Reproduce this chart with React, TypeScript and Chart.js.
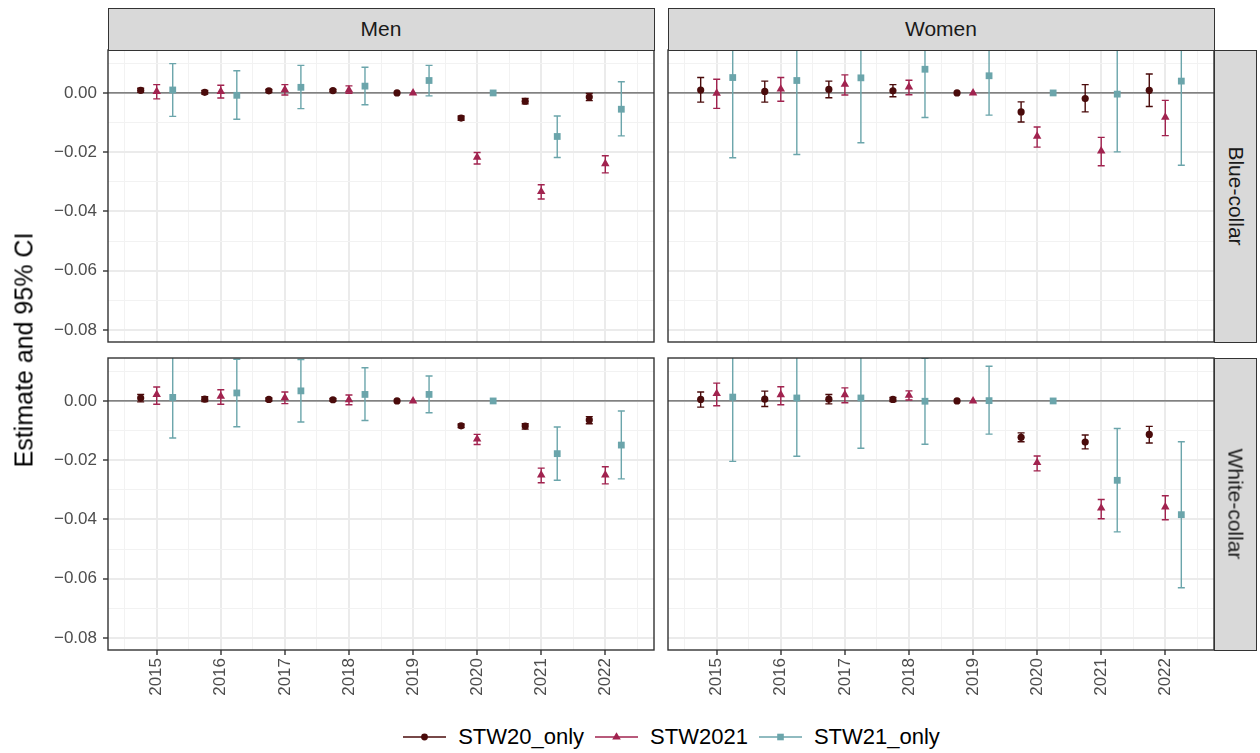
import React, { useEffect, useRef } from "react";
import { Chart, registerables } from "chart.js";

Chart.register(...registerables);

// ---------- data ----------
const years = ["2015", "2016", "2017", "2018", "2019", "2020", "2021", "2022"];
const seriesNames = ["STW20_only", "STW2021", "STW21_only"];
const seriesColors = ["#4A0B0B", "#A1234F", "#6BA5AB"];
const seriesShapes = ["circle", "triangle", "rect"];
const seriesRadius = [3.6, 4.9, 4.8];
const dodge = [-0.25, 0, 0.25];

const Y_MIN = -0.0841;
const Y_MAX = 0.0145;
const X_MIN = 0.24;
const X_MAX = 8.76;

// Men, Blue-collar
const menBlue20Est = [0.0009, 0.0002, 0.0007, 0.0008, 0, -0.0085, -0.0028, -0.0014];
const menBlue20Lo = [0.0002, -0.0004, 0.0002, 0.0004, 0, -0.0092, -0.0037, -0.0026];
const menBlue20Hi = [0.0016, 0.0008, 0.0012, 0.0012, 0, -0.0078, -0.0019, -0.0002];
const menBlue2021Est = [0.0005, 0.0005, 0.0011, 0.001, 0, -0.0217, -0.0333, -0.0239];
const menBlue2021Lo = [-0.002, -0.0017, -0.0007, -0.0001, 0, -0.024, -0.0358, -0.027];
const menBlue2021Hi = [0.0028, 0.0026, 0.0028, 0.0024, 0, -0.0201, -0.031, -0.0212];
const menBlue21Est = [0.001, -0.0008, 0.0019, 0.0023, 0.0042, 0, -0.0147, -0.0055];
const menBlue21Lo = [-0.0079, -0.0089, -0.0053, -0.004, -0.001, 0, -0.0218, -0.0145];
const menBlue21Hi = [0.0099, 0.0075, 0.0093, 0.0087, 0.0093, 0, -0.0078, 0.0038];

// Women, Blue-collar
const womenBlue20Est = [0.001, 0.0005, 0.0012, 0.0007, 0, -0.0064, -0.0019, 0.0009];
const womenBlue20Lo = [-0.0031, -0.0031, -0.0016, -0.0013, 0, -0.0098, -0.0064, -0.0046];
const womenBlue20Hi = [0.0052, 0.004, 0.004, 0.0028, 0, -0.003, 0.0028, 0.0064];
const womenBlue2021Est = [-0.0001, 0.0013, 0.0029, 0.002, 0, -0.0146, -0.0196, -0.0082];
const womenBlue2021Lo = [-0.0052, -0.0028, -0.0007, -0.0006, 0, -0.0183, -0.0246, -0.0144];
const womenBlue2021Hi = [0.0046, 0.0052, 0.0061, 0.0043, 0, -0.0115, -0.015, -0.0025];
const womenBlue21Est = [0.0052, 0.0042, 0.0051, 0.008, 0.0058, 0, -0.0004, 0.004];
const womenBlue21Lo = [-0.0219, -0.0208, -0.0168, -0.0083, -0.0075, 0, -0.0199, -0.0244];
const womenBlue21Hi = [0.0323, 0.0292, 0.027, 0.0243, 0.0191, 0, 0.019, 0.0324];

// Men, White-collar
const menWhite20Est = [0.001, 0.0006, 0.0005, 0.0004, 0, -0.0084, -0.0085, -0.0064];
const menWhite20Lo = [-0.0003, -0.0002, 0.0, 0.0, 0, -0.009, -0.0095, -0.0077];
const menWhite20Hi = [0.0022, 0.0014, 0.001, 0.0008, 0, -0.0078, -0.0077, -0.0053];
const menWhite2021Est = [0.0022, 0.0016, 0.0011, 0.0004, 0, -0.0129, -0.025, -0.025];
const menWhite2021Lo = [-0.0011, -0.0011, -0.0009, -0.0013, 0, -0.0147, -0.0276, -0.028];
const menWhite2021Hi = [0.0047, 0.0038, 0.003, 0.002, 0, -0.0113, -0.0227, -0.0222];
const menWhite21Est = [0.0012, 0.0027, 0.0034, 0.0022, 0.0022, 0, -0.0178, -0.0149];
const menWhite21Lo = [-0.0125, -0.0087, -0.0071, -0.0066, -0.004, 0, -0.0268, -0.0263];
const menWhite21Hi = [0.0149, 0.0141, 0.014, 0.0112, 0.0084, 0, -0.0088, -0.0034];

// Women, White-collar
const womenWhite20Est = [0.0005, 0.0006, 0.0006, 0.0005, 0, -0.0123, -0.0139, -0.0113];
const womenWhite20Lo = [-0.0021, -0.0019, -0.001, -0.0002, 0, -0.0138, -0.0162, -0.0142];
const womenWhite20Hi = [0.003, 0.0033, 0.0022, 0.0012, 0, -0.0108, -0.0115, -0.0086];
const womenWhite2021Est = [0.0025, 0.0021, 0.0021, 0.0019, 0, -0.0208, -0.0362, -0.0358];
const womenWhite2021Lo = [-0.0016, -0.0013, -0.0006, 0.0003, 0, -0.0236, -0.0398, -0.0401];
const womenWhite2021Hi = [0.006, 0.0048, 0.0044, 0.0034, 0, -0.0186, -0.0333, -0.032];
const womenWhite21Est = [0.0013, 0.001, 0.001, -0.0001, 0.0001, 0, -0.0268, -0.0384];
const womenWhite21Lo = [-0.0204, -0.0187, -0.016, -0.0146, -0.0112, 0, -0.0442, -0.0631];
const womenWhite21Hi = [0.023, 0.0207, 0.018, 0.0144, 0.0117, 0, -0.0093, -0.0138];

const colLabels = ["Men", "Women"];
const rowLabels = ["Blue-collar", "White-collar"];
const yTitle = "Estimate and 95% CI";

// ---------- styling ----------
const FONT = "'Liberation Sans', Arial, Helvetica, sans-serif";
const TICK_FONT_SIZE = 17;
const TICK_COLOR = "#4D4D4D";
const GRID_MAJOR = "#EBEBEB";
const GRID_MINOR = "#F2F2F2";
const BORDER = "#333333";
const PLOT_H = 292;

type Series = { est: number[]; lo: number[]; hi: number[] };

type PanelDef = {
  left: number;
  top: number;
  width: number;
  height: number;
  padding: { left: number; right: number; top: number; bottom: number };
  showY: boolean;
  showX: boolean;
  series: Series[];
};

const isMajorY = (v: number) => Math.round(v * 100) % 2 === 0;
const isMajorX = (v: number) => Math.abs(v - Math.round(v)) < 1e-6;

const facetPlugin = {
  id: "facetDecor",
  beforeDatasetsDraw(chart: any) {
    const { ctx, chartArea: a, scales } = chart;
    const x = scales.x;
    const y = scales.y;
    ctx.save();
    ctx.beginPath();
    ctx.rect(a.left, a.top, a.right - a.left, a.bottom - a.top);
    ctx.clip();
    const y0 = y.getPixelForValue(0);
    ctx.strokeStyle = "#5E5E5E";
    ctx.lineWidth = 1.2;
    ctx.beginPath();
    ctx.moveTo(a.left, y0);
    ctx.lineTo(a.right, y0);
    ctx.stroke();
    chart.data.datasets.forEach((ds: any) => {
      ds.data.forEach((p: any, i: number) => {
        const lo = ds.errLo[i];
        const hi = ds.errHi[i];
        if (lo === hi) return;
        const px = x.getPixelForValue(p.x);
        const pl = y.getPixelForValue(lo);
        const ph = y.getPixelForValue(hi);
        ctx.strokeStyle = ds.borderColor;
        ctx.lineWidth = 1.4;
        ctx.beginPath();
        ctx.moveTo(px, pl);
        ctx.lineTo(px, ph);
        ctx.moveTo(px - 3.5, pl);
        ctx.lineTo(px + 3.5, pl);
        ctx.moveTo(px - 3.5, ph);
        ctx.lineTo(px + 3.5, ph);
        ctx.stroke();
      });
    });
    ctx.restore();
  },
  afterDraw(chart: any) {
    const { ctx, chartArea: a } = chart;
    ctx.save();
    ctx.strokeStyle = BORDER;
    ctx.lineWidth = 1.4;
    ctx.strokeRect(a.left, a.top, a.right - a.left, a.bottom - a.top);
    ctx.restore();
  },
};

function Panel({ def }: { def: PanelDef }) {
  const ref = useRef<HTMLCanvasElement | null>(null);
  useEffect(() => {
    if (!ref.current) return;
    const datasets = def.series.map((s, k) => ({
      label: seriesNames[k],
      data: s.est.map((v, i) => ({ x: i + 1 + dodge[k], y: v })),
      errLo: s.lo,
      errHi: s.hi,
      pointStyle: seriesShapes[k],
      pointRadius: seriesRadius[k],
      pointHoverRadius: seriesRadius[k],
      backgroundColor: seriesColors[k],
      borderColor: seriesColors[k],
      pointBorderWidth: 0,
      showLine: false,
    }));
    const xAxisH = def.showX ? def.height - def.padding.top - def.padding.bottom - PLOT_H : 0;
    const chart = new Chart(ref.current, {
      type: "scatter",
      data: { datasets: datasets as any },
      plugins: [facetPlugin],
      options: {
        animation: false,
        responsive: false,
        devicePixelRatio: 1,
        layout: { padding: def.padding },
        plugins: { legend: { display: false }, tooltip: { enabled: false } },
        scales: {
          x: {
            type: "linear",
            min: X_MIN,
            max: X_MAX,
            border: { display: false },
            afterFit: (s: any) => {
              s.height = xAxisH;
              s.paddingLeft = 0;
              s.paddingRight = 0;
              s.paddingTop = 0;
              s.paddingBottom = 0;
            },
            ticks: {
              display: def.showX,
              stepSize: 0.5,
              includeBounds: false,
              autoSkip: false,
              maxRotation: 90,
              minRotation: 90,
              padding: 3,
              color: TICK_COLOR,
              font: { family: FONT, size: TICK_FONT_SIZE },
              callback: (v: any) => (isMajorX(Number(v)) ? years[Math.round(Number(v)) - 1] : ""),
            },
            grid: {
              drawTicks: def.showX,
              tickLength: 5,
              tickWidth: 1.4,
              tickColor: (c: any) => (c.tick && isMajorX(c.tick.value) ? BORDER : "rgba(0,0,0,0)"),
              color: (c: any) => (c.tick && isMajorX(c.tick.value) ? GRID_MAJOR : GRID_MINOR),
              lineWidth: (c: any) => (c.tick && isMajorX(c.tick.value) ? 2 : 1),
            },
          },
          y: {
            type: "linear",
            min: Y_MIN,
            max: Y_MAX,
            border: { display: false },
            afterFit: (s: any) => {
              s.width = def.showY ? 108 - def.padding.left : 0;
              s.paddingTop = 0;
              s.paddingBottom = 0;
              s.paddingLeft = 0;
              s.paddingRight = 0;
            },
            ticks: {
              display: def.showY,
              stepSize: 0.01,
              includeBounds: false,
              autoSkip: false,
              padding: 6,
              color: TICK_COLOR,
              font: { family: FONT, size: TICK_FONT_SIZE },
              callback: (v: any) => {
                const n = Number(v);
                if (!isMajorY(n)) return "";
                const r = Math.round(n * 100) / 100;
                const s = Math.abs(r).toFixed(2);
                return r < 0 ? "\u2212" + s : s;
              },
            },
            grid: {
              drawTicks: def.showY,
              tickLength: 5,
              tickWidth: 1.4,
              tickColor: (c: any) => (c.tick && isMajorY(c.tick.value) ? BORDER : "rgba(0,0,0,0)"),
              color: (c: any) => (c.tick && isMajorY(c.tick.value) ? GRID_MAJOR : GRID_MINOR),
              lineWidth: (c: any) => (c.tick && isMajorY(c.tick.value) ? 2 : 1),
            },
          },
        },
      } as any,
    });
    return () => chart.destroy();
  }, [def]);
  return (
    <canvas
      ref={ref}
      width={def.width}
      height={def.height}
      style={{ position: "absolute", left: def.left, top: def.top, width: def.width, height: def.height }}
    />
  );
}

const panels: PanelDef[] = [
  {
    left: 0, top: 44, width: 660, height: 304,
    padding: { left: 0, right: 6, top: 6, bottom: 6 },
    showY: true, showX: false,
    series: [
      { est: menBlue20Est, lo: menBlue20Lo, hi: menBlue20Hi },
      { est: menBlue2021Est, lo: menBlue2021Lo, hi: menBlue2021Hi },
      { est: menBlue21Est, lo: menBlue21Lo, hi: menBlue21Hi },
    ],
  },
  {
    left: 662, top: 44, width: 558, height: 304,
    padding: { left: 6, right: 6, top: 6, bottom: 6 },
    showY: false, showX: false,
    series: [
      { est: womenBlue20Est, lo: womenBlue20Lo, hi: womenBlue20Hi },
      { est: womenBlue2021Est, lo: womenBlue2021Lo, hi: womenBlue2021Hi },
      { est: womenBlue21Est, lo: womenBlue21Lo, hi: womenBlue21Hi },
    ],
  },
  {
    left: 0, top: 352, width: 660, height: 360,
    padding: { left: 0, right: 6, top: 6, bottom: 0 },
    showY: true, showX: true,
    series: [
      { est: menWhite20Est, lo: menWhite20Lo, hi: menWhite20Hi },
      { est: menWhite2021Est, lo: menWhite2021Lo, hi: menWhite2021Hi },
      { est: menWhite21Est, lo: menWhite21Lo, hi: menWhite21Hi },
    ],
  },
  {
    left: 662, top: 352, width: 558, height: 360,
    padding: { left: 6, right: 6, top: 6, bottom: 0 },
    showY: false, showX: true,
    series: [
      { est: womenWhite20Est, lo: womenWhite20Lo, hi: womenWhite20Hi },
      { est: womenWhite2021Est, lo: womenWhite2021Lo, hi: womenWhite2021Hi },
      { est: womenWhite21Est, lo: womenWhite21Lo, hi: womenWhite21Hi },
    ],
  },
];

function LegendIcon({ k }: { k: number }) {
  const c = seriesColors[k];
  let marker: React.ReactNode = null;
  if (k === 0) marker = <circle cx={21.5} cy={9} r={3.4} fill={c} />;
  if (k === 1) marker = <polygon points="21.5,4.3 25.8,11.6 17.2,11.6" fill={c} />;
  if (k === 2) marker = <rect x={18.2} y={5.7} width={6.6} height={6.6} fill={c} />;
  return (
    <svg width={43} height={18} style={{ display: "block" }}>
      <line x1={0} y1={9} x2={43} y2={9} stroke={c} strokeWidth={1.4} />
      {marker}
    </svg>
  );
}

const stripStyle: React.CSSProperties = {
  position: "absolute",
  boxSizing: "border-box",
  background: "#D9D9D9",
  border: `1.4px solid ${BORDER}`,
  color: "#1A1A1A",
  fontSize: 21,
  display: "flex",
  alignItems: "center",
  justifyContent: "center",
};

export default function App() {
  return (
    <div
      style={{
        position: "absolute",
        left: 0,
        top: 0,
        width: 1260,
        height: 753,
        background: "#FFFFFF",
        fontFamily: FONT,
        overflow: "hidden",
      }}
    >
      {panels.map((p, i) => (
        <Panel key={i} def={p} />
      ))}
      {/* column strips */}
      <div style={{ ...stripStyle, left: 107.5, top: 8, width: 547, height: 42.5 }}>{colLabels[0]}</div>
      <div style={{ ...stripStyle, left: 667.5, top: 8, width: 547, height: 42.5 }}>{colLabels[1]}</div>
      {/* row strips */}
      <div style={{ ...stripStyle, left: 1213.5, top: 49.5, width: 43.5, height: 293 }}>
        <span style={{ transform: "rotate(90deg)", whiteSpace: "nowrap" }}>{rowLabels[0]}</span>
      </div>
      <div style={{ ...stripStyle, left: 1213.5, top: 357.5, width: 43.5, height: 293 }}>
        <span style={{ transform: "rotate(90deg)", whiteSpace: "nowrap" }}>{rowLabels[1]}</span>
      </div>
      {/* y axis title */}
      <div
        style={{
          position: "absolute",
          left: 24,
          top: 350,
          transform: "translate(-50%, -50%) rotate(-90deg)",
          whiteSpace: "nowrap",
          fontSize: 25,
          color: "#000000",
        }}
      >
        {yTitle}
      </div>
      {/* legend */}
      <div
        style={{
          position: "absolute",
          left: 0,
          width: 1343,
          top: 723,
          height: 28,
          display: "flex",
          justifyContent: "center",
          alignItems: "center",
          fontSize: 22,
          color: "#000000",
        }}
      >
        {seriesNames.map((n, k) => (
          <div key={n} style={{ display: "flex", alignItems: "center", marginRight: k < 2 ? 11 : 0 }}>
            <LegendIcon k={k} />
            <span style={{ marginLeft: 12 }}>{n}</span>
          </div>
        ))}
      </div>
    </div>
  );
}
